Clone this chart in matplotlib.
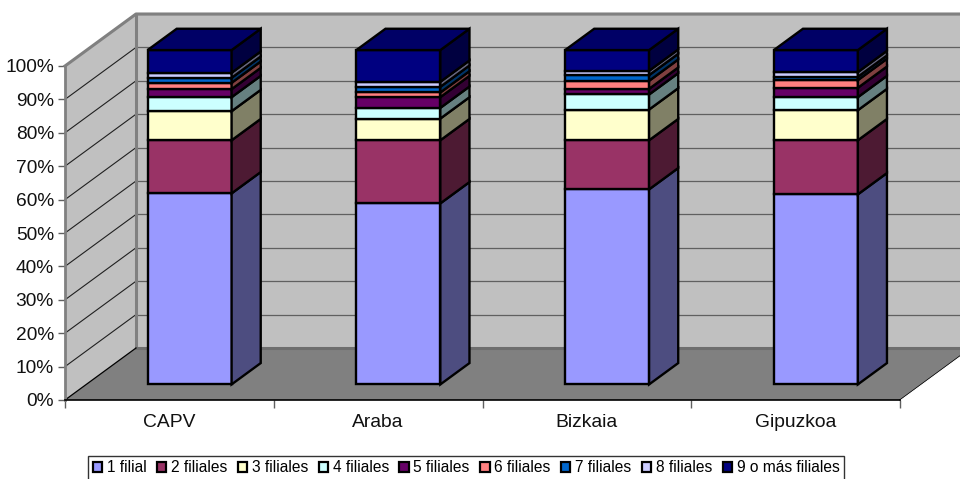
import matplotlib
matplotlib.use('Agg')
import numpy as np
import matplotlib.pyplot as plt
from matplotlib.patches import Patch

plt.rcParams['font.family'] = ['Liberation Sans', 'DejaVu Sans']

# Data
categories = ['CAPV', 'Araba', 'Bizkaia', 'Gipuzkoa']
series_names = ['1 filial', '2 filiales', '3 filiales', '4 filiales', '5 filiales',
                '6 filiales', '7 filiales', '8 filiales', '9 o más filiales']
s1 = [57.2, 54.2, 58.4, 56.9]
s2 = [15.9, 18.9, 14.7, 16.2]
s3 = [8.7, 6.5, 9.2, 9.0]
s4 = [4.2, 3.2, 4.5, 3.9]
s5 = [2.4, 3.2, 1.7, 2.8]
s6 = [1.9, 1.4, 2.4, 2.3]
s7 = [1.5, 1.7, 1.7, 1.0]
s8 = [1.5, 1.5, 1.3, 1.4]
s9 = [6.8, 9.5, 6.2, 6.6]
all_series = [s1, s2, s3, s4, s5, s6, s7, s8, s9]

front_colors = ['#9999FF', '#993366', '#FFFFCC', '#CCFFFF', '#660066',
                '#FF8080', '#0066CC', '#CCCCFF', '#000080']
side_colors = ['#4D4D80', '#4D1A33', '#808066', '#668080', '#330033',
               '#804040', '#003366', '#666680', '#000040']
top_color = '#000066'

# Oblique projection, in axis units
wall_dx = 71 / 208.75
wall_dy = 52 / 3.34
gap_x = 0.285
gap_y = 0.30
depth_t = 0.41
bar_width = 84 / 208.75

fig = plt.figure(figsize=(9.6, 4.79), dpi=100)
ax = fig.add_axes([65 / 960, 79 / 479, 835 / 960, 334 / 479])
ax.set_xlim(0, 4)
ax.set_ylim(0, 100)


def face(xs, ys, color, edge='none', lw=0, z=1):
    ax.fill(xs, ys, facecolor=color, edgecolor=edge, linewidth=lw,
            zorder=z, clip_on=False, joinstyle='miter')


# Walls and floor
x_end = 4 + wall_dx
face([0, wall_dx, wall_dx, 0], [0, wall_dy, 100 + wall_dy, 100], '#C0C0C0')
face([wall_dx, x_end, x_end, wall_dx], [wall_dy, wall_dy, 100 + wall_dy, 100 + wall_dy], '#C0C0C0')
face([0, 4, x_end, wall_dx], [0, 0, wall_dy, wall_dy], '#808080')

for v in range(10, 101, 10):
    ax.plot([0, wall_dx], [v, v + wall_dy], color='#202020', lw=0.8, zorder=2, clip_on=False)
    ax.plot([wall_dx, x_end], [v + wall_dy, v + wall_dy], color='#606060', lw=0.9, zorder=2, clip_on=False)

# Wall edges
ax.plot([wall_dx, wall_dx], [wall_dy, 100 + wall_dy], color='#808080', lw=2.2, zorder=2, clip_on=False)
ax.plot([0, wall_dx, x_end], [100, 100 + wall_dy, 100 + wall_dy], color='#808080', lw=2.2, zorder=2, clip_on=False)
ax.plot([wall_dx, x_end], [wall_dy, wall_dy], color='#6E6E6E', lw=2.2, zorder=2, clip_on=False)
ax.plot([0, wall_dx], [0, wall_dy], color='black', lw=0.9, zorder=3, clip_on=False)
ax.plot([4, x_end], [0, wall_dy], color='black', lw=0.9, zorder=3, clip_on=False)
ax.plot([4.006, x_end + 0.006], [0, wall_dy], color='white', lw=0.8, zorder=3, clip_on=False)

# Stacked boxes
for i in range(len(categories)):
    left = i + 0.5 - bar_width / 2 + gap_x * wall_dx
    right = left + bar_width
    base = gap_y * wall_dy
    ddx = depth_t * wall_dx
    ddy = depth_t * wall_dy
    bottom = base
    for k, values in enumerate(all_series):
        top = bottom + values[i]
        face([left, right, right, left], [bottom, bottom, top, top], front_colors[k],
             edge='black', lw=1.7, z=4)
        face([right, right + ddx, right + ddx, right],
             [bottom, bottom + ddy, top + ddy, top], side_colors[k],
             edge='black', lw=1.7, z=4)
        bottom = top
    face([left, right, right + ddx, left + ddx],
         [bottom, bottom, bottom + ddy, bottom + ddy], top_color,
         edge='black', lw=1.7, z=4)

# Axes
for name in ['top', 'right']:
    ax.spines[name].set_visible(False)
ax.spines['left'].set_color('#808080')
ax.spines['left'].set_linewidth(2)
ax.spines['bottom'].set_color('black')
ax.spines['bottom'].set_linewidth(1.2)
for spine in ax.spines.values():
    spine.set_zorder(3)

ax.set_yticks(np.arange(0, 101, 10))
ax.set_yticklabels([f'{v}%' for v in range(0, 101, 10)], fontsize=13.8, color='#111111')
ax.tick_params(axis='y', length=5, width=1, color='#606060', pad=3)
ax.set_xticks(range(5))
ax.set_xticklabels([])
ax.tick_params(axis='x', which='major', length=6, width=1, color='#606060')
ax.set_xticks(np.arange(len(categories)) + 0.5, minor=True)
ax.set_xticklabels(categories, minor=True, fontsize=13.9, color='#111111')
ax.tick_params(axis='x', which='minor', length=0, pad=10)

# Legend
handles = [Patch(facecolor=c, edgecolor='black', linewidth=1.6) for c in front_colors]
leg = fig.legend(handles, series_names, ncol=9, loc='lower left',
                 bbox_to_anchor=(88 / 960, -1 / 479), borderaxespad=0,
                 fontsize=11.2, frameon=True, fancybox=False, edgecolor='#333333',
                 handlelength=0.6, handleheight=0.6, handletextpad=0.3,
                 columnspacing=0.68, borderpad=0.3)
leg.get_frame().set_linewidth(1)
leg.get_frame().set_alpha(1)

fig.savefig('out.png', dpi=100)
